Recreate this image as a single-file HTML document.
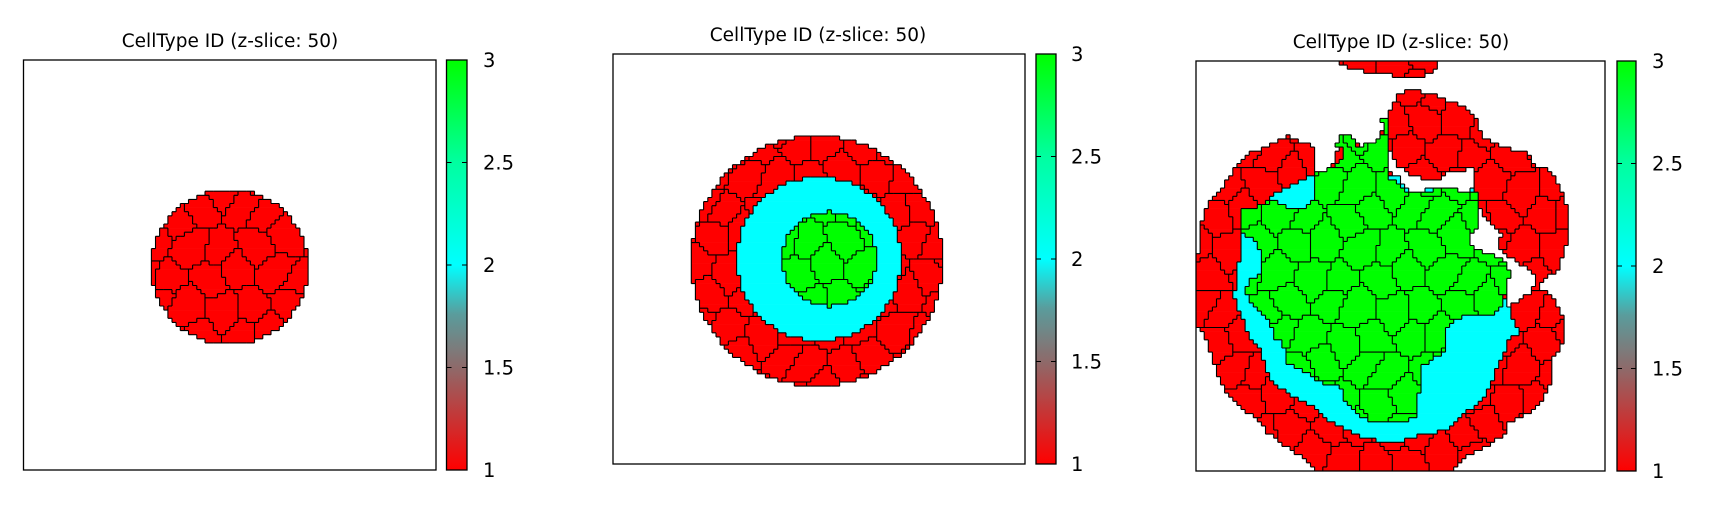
<!DOCTYPE html>
<html><head><meta charset="utf-8">
<style>
html,body{margin:0;padding:0;background:#fff;}
#root{position:relative;width:1712px;height:511px;overflow:hidden;background:#fff;font-family:"DejaVu Sans","Liberation Sans",sans-serif;}
svg{position:absolute;left:0;top:0;}
</style></head>
<body>
<div id="root">
<svg id="fig" width="1712" height="511" viewBox="0 0 1712 511"></svg>
</div>
<script>
// ---- data ----
const cbTicks = [1, 1.5, 2, 2.5, 3];
const cbTickLabels = ["1", "1.5", "2", "2.5", "3"];
const titles = ["CellType ID (z-slice: 50)", "CellType ID (z-slice: 50)", "CellType ID (z-slice: 50)"];
// circles: [cx, cy, r, cellType] in lattice units (0..100)
const panel1Circles = [[50, 50.5, 19, 1]];
const panel2Circles = [[49.5, 50.5, 30.5, 1], [50, 50, 20, 2], [52.5, 50, 11.5, 3]];
// panel 3 outlines (reference-crop coordinates, converted by toUnits)
const p3Colony = [[380,408],[455,440],[460,520],[490,510],[520,480],[525,410],[560,408],[590,440],[640,420],[660,350],[690,280],[740,270],[780,280],[830,300],[880,325],[910,360],[930,410],[980,440],[1050,460],[1080,500],[1110,510],[1135,540],[1150,580],[1165,630],[1168,700],[1155,760],[1140,810],[1100,840],[1080,870],[1120,880],[1145,930],[1155,970],[1155,1030],[1120,1080],[1120,1150],[1090,1210],[1040,1250],[1000,1270],[995,1300],[940,1340],[880,1370],[860,1400],[810,1420],[490,1420],[450,1400],[420,1370],[380,1340],[330,1300],[300,1260],[265,1230],[210,1170],[180,1100],[165,1040],[150,1000],[120,970],[120,800],[140,750],[140,670],[155,630],[175,590],[210,550],[235,510],[280,460],[320,440]];
const p3TopStrip = [[528,180],[803,180],[800,210],[740,235],[630,220],[580,210],[528,195]];
const p3Cyan = [[255,690],[260,630],[320,625],[325,600],[365,570],[420,545],[455,520],[520,500],[900,560],[990,900],[1000,920],[1030,1000],[1000,1020],[985,1070],[950,1150],[930,1200],[890,1230],[840,1280],[790,1300],[750,1305],[680,1330],[600,1315],[570,1300],[490,1260],[460,1220],[400,1190],[345,1150],[320,1110],[310,1050],[275,1010],[255,950],[235,890],[240,800],[255,760]];
const p3Green = [[255,630],[300,620],[340,600],[380,620],[440,620],[460,600],[460,520],[490,510],[530,490],[540,450],[520,440],[530,410],[560,410],[580,440],[620,430],[640,420],[655,380],[640,350],[660,350],[660,440],[665,530],[720,575],[800,570],[860,570],[920,580],[920,620],[920,680],[890,710],[900,740],[940,760],[975,770],[1010,820],[1020,840],[990,880],[985,920],[960,945],[910,940],[880,950],[840,965],[825,990],[820,1050],[780,1090],[760,1100],[755,1160],[745,1200],[750,1250],[700,1270],[640,1270],[600,1255],[560,1225],[540,1190],[525,1150],[490,1150],[470,1140],[420,1110],[380,1090],[370,1030],[345,1010],[335,960],[300,930],[280,900],[265,880],[280,840],[310,825],[310,780],[300,730],[270,710],[255,690]];
const p3HoleRight = [[920,625],[940,660],[980,700],[975,750],[1030,790],[1080,830],[1060,880],[1000,920],[990,850],[1010,820],[975,770],[940,760],[900,740],[890,710],[920,680]];
const p3HoleTop = [[665,445],[690,500],[740,530],[800,540],[830,520],[900,505],[912,555],[880,575],[850,568],[720,572],[700,540],[670,510]];

// ---- layout ----
const panels = [
  {box:[23.5,60,412.5,410], cb:[446.5,60,20.5,410], lab:483, titleX:230, titleY:47},
  {box:[613,54,412,410], cb:[1036,54,20,410], lab:1071, titleX:818, titleY:41},
  {box:[1196,61,409,410], cb:[1617,61,19,410], lab:1652, titleX:1401, titleY:48}
];
const N = 100;
const NS = "http://www.w3.org/2000/svg";
const svg = document.getElementById('fig');
function mk(tag, attrs, parent){ const e=document.createElementNS(NS,tag); for(const k in attrs) e.setAttribute(k,attrs[k]); (parent||svg).appendChild(e); return e; }
function toUnits(pts){ return pts.map(p=>[(0.36*p[0]-46)/4.11,(p[1]/3-61)/4.1]); }
function inPoly(x,y,poly){ let c=false; for(let i=0,j=poly.length-1;i<poly.length;j=i++){ const xi=poly[i][0],yi=poly[i][1],xj=poly[j][0],yj=poly[j][1]; if(((yi>y)!=(yj>y)) && (x<(xj-xi)*(y-yi)/(yj-yi)+xi)) c=!c; } return c; }

const p3Layers = [[toUnits(p3Colony),1],[toUnits(p3TopStrip),1],[toUnits(p3Cyan),2],[toUnits(p3Green),3],[toUnits(p3HoleRight),0],[toUnits(p3HoleTop),0]];
function typeFor(pi,x,y){
  let t=0;
  if(pi<2){ const cs = pi===0?panel1Circles:panel2Circles; for(const c of cs){ if((x-c[0])**2+(y-c[1])**2<=c[2]*c[2]) t=c[3]; } }
  else { for(const L of p3Layers){ if(inPoly(x,y,L[0])) t=L[1]; } }
  return t;
}
// texture seeds for individual cell boundaries (visual texture only)
const seeds=[];
for(let j=0;j<14;j++) for(let i=0;i<14;i++){ seeds.push([i*8+(j%2)*4+2.2*Math.sin(i*3.1+j*1.7), j*7.5+2.2*Math.cos(i*1.3+j*2.9)]); }
function cellId(t,x,y){ if(t===0) return -1; if(t===2) return -2; let b=0,bd=1e9; for(let k=0;k<seeds.length;k++){ const d=(x-seeds[k][0])**2+(y-seeds[k][1])**2; if(d<bd){bd=d;b=k;} } return t*1000+b; }
const colors = {1:'#ff0000',2:'#00ffff',3:'#00ff00'};

// gradient
const defs = mk('defs',{});
const lg = mk('linearGradient',{id:'cbgrad',x1:0,y1:1,x2:0,y2:0},defs);
[[0,'#ff0000'],[0.25,'#8e6a6a'],[0.38,'#5a9c9c'],[0.5,'#00ffff'],[0.75,'#00ffa0'],[1,'#00ff00']].forEach(s=>mk('stop',{offset:s[0],'stop-color':s[1]},lg));

panels.forEach((P,pi)=>{
  const g = mk('g',{});
  
  
  const [bx,by,bw,bh]=P.box; const cw=bw/N, ch=bh/N;
  const T=[],I=[];
  for(let r=0;r<N;r++){ T.push([]); I.push([]); for(let c=0;c<N;c++){ const x=c+0.5,y=r+0.5; const t=typeFor(pi,x,y); T[r].push(t); I[r].push(cellId(t,x,y)); } }
  const field = mk('g',{},g);
  
  
  for(let r=0;r<N;r++){ let c=0; while(c<N){ const t=T[r][c]; let e=c; while(e<N && T[r][e]===t) e++; if(t){ const rect=mk('rect',{x:bx+c*cw,y:by+r*ch,width:(e-c)*cw+0.3,height:ch+0.3,fill:colors[t]},field);   } c=e; } }
  let d='';
  for(let r=0;r<N;r++) for(let c=0;c<N;c++){
    const id=I[r][c];
    if(c<N-1 && id!==I[r][c+1] && (id!==-1||I[r][c+1]!==-1)) d+=`M${(bx+(c+1)*cw).toFixed(1)} ${(by+r*ch).toFixed(1)}v${ch.toFixed(2)}`;
    if(r<N-1 && id!==I[r+1][c] && (id!==-1||I[r+1][c]!==-1)) d+=`M${(bx+c*cw).toFixed(1)} ${(by+(r+1)*ch).toFixed(1)}h${cw.toFixed(2)}`;
  }
  const edges=mk('path',{d:d,stroke:'#000','stroke-width':1.1,fill:'none'},g);
  
  
  const frame=mk('rect',{x:bx,y:by,width:bw,height:bh,fill:'none',stroke:'#000','stroke-width':1.3},g);
  
  
  const title=mk('text',{x:P.titleX,y:P.titleY,'text-anchor':'middle','font-size':18.5,fill:'#000'},g);
  title.textContent=titles[pi];
  
  
  const [cx,cy,cbw,cbh]=P.cb;
  const cb=mk('rect',{x:cx,y:cy,width:cbw,height:cbh,fill:'url(#cbgrad)',stroke:'#000','stroke-width':1.3},g);
  
  
  const ys=v=>cy+cbh-(v-1)/2*cbh;
  cbTicks.forEach((v,k)=>{
    const y=ys(v);
    if(k>0 && k<cbTicks.length-1){
      const tk=mk('path',{d:`M${cx} ${y}h5M${cx+cbw-5} ${y}h5`,stroke:'#000','stroke-width':1},g);
      
      
    }
    const tl=mk('text',{x:P.lab,y:y+7,'font-size':19.5,fill:'#000'},g);
    tl.textContent=cbTickLabels[k];
    
    
  });
});
</script>
</body></html>
